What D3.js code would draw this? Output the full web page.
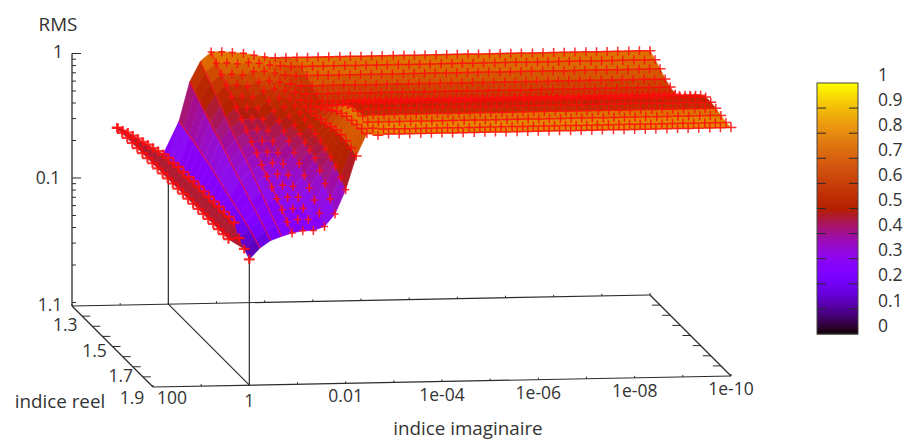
<!DOCTYPE html>
<html>
<head>
<meta charset="utf-8">
<script src="https://cdn.jsdelivr.net/npm/d3@7"></script>
<style>
html, body { margin: 0; padding: 0; background: #fff; }
text { font-family: "Open Sans", sans-serif; font-size: 17.5px; fill: #333; }
text.title { font-size: 18.8px; }
</style>
</head>
<body>
<div id="chart"></div>
<script>
// RMS versus complex index. Columns go by log10(imaginary index).
var reelRows = [1.1, 1.15, 1.2, 1.25, 1.3, 1.35, 1.4, 1.45, 1.5, 1.55, 1.6, 1.65, 1.7, 1.75, 1.8, 1.85, 1.9];
var flapRows = [0.6, 0.65, 0.7, 0.75, 0.8, 0.85, 0.9, 0.95, 1.0, 1.05];

var flapEdgeExp = 0.222;
var flapEdge = [null, null, 0.116, 0.116, 0.116, 0.116, 0.116, 0.116, 0.116, 0.116];
var flapUnity = [0.096, 0.100, 0.106, 0.110, 0.114, 0.118, 0.123, 0.127, 0.132, 0.137];
var mainEdge = [0.116, 0.116, 0.116, 0.116, 0.116, 0.116, 0.116, 0.116, 0.116, 0.116, 0.116, 0.116, 0.116, 0.116, 0.116, null, null];

var dipExp = [0, -0.222, -0.444, -0.667, -0.889, -1.11, -1.33, -1.56, -1.78, -2, -2.22, -2.44, -2.67];
var dipRms = [
  [.140,.140,.143,.143,.143,.145,.145,.145,.145,.145,.145,.145,.145,.143,.118,.106,.096],
  [.275,.265,.255,.246,.236,.224,.216,.204,.192,.182,.172,.163,.154,.145,.137,.127,.118],
  [.570,.519,.473,.431,.392,.357,.331,.302,.275,.250,.232,.212,.192,.176,.163,.148,.135],
  [.829,.741,.662,.592,.529,.473,.422,.378,.344,.313,.280,.250,.224,.200,.179,.163,.145],
  [.981,.877,.784,.700,.626,.559,.491,.439,.392,.350,.307,.275,.246,.219,.196,.172,.154],
  [.981,.877,.784,.700,.626,.559,.500,.447,.399,.357,.319,.285,.255,.224,.200,.179,.160],
  [.963,.860,.769,.687,.614,.549,.491,.439,.392,.350,.313,.280,.250,.224,.200,.179,.160],
  [.945,.877,.814,.741,.687,.626,.570,.519,.473,.431,.385,.344,.302,.265,.232,.200,.172],
  [.910,.860,.814,.755,.713,.662,.614,.570,.529,.491,.464,.439,.415,.364,.313,.260,.216],
  [.877,.829,.784,.727,.687,.650,.626,.603,.581,.559,.539,.519,.491,.464,.431,.385,.337],
  [.860,.814,.755,.700,.662,.626,.614,.614,.626,.638,.650,.675,.700,.700,.687,.662,.626],
  [.860,.799,.741,.675,.638,.614,.614,.650,.700,.755,.814,.860,.893,.910,.927,.945,.945],
  [.860,.799,.741,.675,.638,.614,.626,.675,.755,.829,.910,.963,.981,.981,.963,.945,.910]
];

// the surface is flat from about 1e-03 onwards, same profile for every column
var plateauExp = [-2.89, -3.11, -3.33, -3.56, -3.78, -4, -4.22, -4.44, -4.67, -4.89, -5.11, -5.33, -5.56, -5.78, -6, -6.22, -6.44, -6.67, -6.89, -7.11, -7.33, -7.56, -7.78, -8, -8.22, -8.44, -8.67, -8.89, -9.11, -9.33, -9.56, -9.78, -10];
var plateauRms = [.860,.799,.741,.675,.638,.614,.626,.687,.784,.877,.963,1.02,1.02,1.0,.963,.927,.927];
// colour read from the picture on the plateau, it does not follow the height there
var plateauCb = [.76,.74,.7,.64,.6,.56,.53,.52,.52,.52,.52,.53,.56,.76,.8,.8,.7];

var imagTicks = [100, 1, 0.01, 1e-4, 1e-6, 1e-8, 1e-10];
var imagLabels = ["100", "1", "0.01", "1e-04", "1e-06", "1e-08", "1e-10"];
var imagMinor = [10, 0.1, 1e-3, 1e-5, 1e-7, 1e-9];
var reelTicks = [1.1, 1.2, 1.3, 1.4, 1.5, 1.6, 1.7, 1.8, 1.9];
var reelLabels = ["1.1", "1.3", "1.5", "1.7", "1.9"];
var rmsMajor = [1, 0.1];
var rmsMinor = [0.9, 0.8, 0.7, 0.6, 0.5, 0.4, 0.3, 0.2, 0.09, 0.08, 0.07, 0.06, 0.05, 0.04, 0.03, 0.02, 0.01];
var cbTicks = [0, 0.1, 0.2, 0.3, 0.4, 0.5, 0.6, 0.7, 0.8, 0.9, 1];

var svg = d3.select("#chart").append("svg")
    .attr("width", 906)
    .attr("height", 441);

// 3d box, oblique: x runs along the imaginary axis, a tilted depth along the real one
var originX = 72, originY = 306;
var imagX = d3.scaleLog().domain([100, 1e-10]).range([0, 578]);
var imagY = d3.scaleLog().domain([100, 1e-10]).range([0, -11]);
var reelD = d3.scaleLinear().domain([1.1, 1.9]).range([0, 81]);
var rmsH = d3.scaleLog().domain([0.00937, 1]).range([0, 252.5]);

function project(im, re, rms) {
  return [originX + imagX(im) + reelD(re),
          originY + imagY(im) + reelD(re) - (rms == null ? 0 : rmsH(rms))];
}

// gnuplot palette 7,5,15
function pal(v) {
  var r = Math.sqrt(v), g = v * v * v, b = Math.sin(2 * Math.PI * v);
  return d3.rgb(255 * r, 255 * g, 255 * Math.max(b, 0)).formatHex();
}
var cbFromRms = d3.scaleLinear()
    .domain([0.09, 0.13, 0.16, 0.4, 0.65, 0.87, 1])
    .range([0.09, 0.17, 0.27, 0.42, 0.56, 0.76, 0.8]);
var flapCb = 0.47;

// columns: one array per imaginary value, flap rows first
var allRows = flapRows.concat(reelRows);
var blank = flapRows.map(function () { return null; });
var blankCb = blank.concat(plateauCb);
var columns = [{ e: flapEdgeExp, v: flapEdge.concat(mainEdge), mark: true, flap: true }];
dipExp.forEach(function (e, i) {
  columns.push({
    e: e,
    v: (i == 0 ? flapUnity : blank).concat(dipRms[i]),
    cb: i == 12 ? blankCb : null,
    mark: i == 0 || i > 3,
    dip: i > 3 && i < 10,
    flap: i == 0,
    stripe: i > 0 && i < 5
  });
});
plateauExp.forEach(function (e) {
  columns.push({ e: e, v: blank.concat(plateauRms), cb: blankCb, mark: true });
});

// box floor and axes
var ink = "#2b2b2b";
function line(a, b, w) {
  svg.append("line")
    .attr("x1", a[0]).attr("y1", a[1]).attr("x2", b[0]).attr("y2", b[1])
    .style("stroke", ink).style("stroke-width", w || 1.2);
}
var c11 = project(100, 1.1), c19 = project(100, 1.9);
var e11 = project(1e-10, 1.1), e19 = project(1e-10, 1.9);
line(c11, e11); line(c19, e19); line(c11, c19); line(e11, e19);
line(project(1, 1.1), project(1, 1.9));
line(project(1, 1.1), project(1, 1.1, 0.1));
line(project(1, 1.9), project(1, 1.9, 0.1));

// imaginary axis ticks, front and back
imagTicks.concat(imagMinor).forEach(function (t) {
  [1.1, 1.9].forEach(function (re) {
    var p = project(t, re);
    line(p, [p[0], p[1] - 2], 1);
  });
});
reelTicks.slice(1, -1).forEach(function (t) {
  var p = project(100, t), q = project(1e-10, t);
  line(p, [p[0] + 8, p[1]], 1);
  line(q, [q[0] - 8, q[1]], 1);
});

// rms axis
var zTop = project(100, 1.1, 1);
line(c11, zTop, 1.3);
rmsMajor.forEach(function (t) {
  var p = project(100, 1.1, t);
  line(p, [p[0] + 9, p[1]], 1);
});
rmsMinor.forEach(function (t) {
  var p = project(100, 1.1, t);
  line(p, [p[0] + 4, p[1]], 1);
});

// surface, painted from the back row to the front row
var surf = svg.append("g").attr("filter", "url(#soft)");
var defs = svg.append("defs");
defs.append("filter").attr("id", "soft")
    .attr("x", "-5%").attr("y", "-5%").attr("width", "110%").attr("height", "110%")
  .append("feGaussianBlur").attr("stdDeviation", 0.65);

function pointOf(col, k) {
  return project(Math.pow(10, col.e), allRows[k], col.v[k]);
}

var pathGen = d3.line();
allRows.forEach(function (re, k) {
  var g = surf.append("g");
  if (k < allRows.length - 1) {
    var cells = [];
    d3.range(columns.length - 1).forEach(function (c) {
      var corners = [[c, k], [c + 1, k], [c + 1, k + 1], [c, k + 1]].filter(function (a) {
        return columns[a[0]].v[a[1]] != null;
      });
      if (corners.length < 3) return;
      var vals = corners.map(function (a) { return columns[a[0]].v[a[1]]; });
      var fill = c == 0 ? flapCb : cbFromRms(d3.mean(vals));
      if (columns[c].cb) fill = columns[c].cb[k];
      cells.push({
        pts: corners.map(function (a) { return pointOf(columns[a[0]], a[1]); }),
        cb: fill
      });
    });
    g.selectAll("path.cell").data(cells).enter().append("path")
      .attr("class", "cell")
      .attr("d", function (d) { return pathGen(d.pts) + "Z"; })
      .style("fill", function (d) { return pal(d.cb); })
      .style("stroke", function (d) { return pal(d.cb); })
      .style("stroke-width", 0.6);
    var stripes = columns.filter(function (col) {
      return col.stripe && col.v[k] != null && col.v[k + 1] != null;
    });
    g.selectAll("path.stripe").data(stripes).enter().append("path")
      .attr("class", "stripe")
      .attr("d", function (col) { return pathGen([pointOf(col, k), pointOf(col, k + 1)]); })
      .style("stroke", "#ff0a28")
      .style("stroke-width", 1.5)
      .style("opacity", 0.6);
  }
  var marks = columns.filter(function (col) { return col.mark && col.v[k] != null; });
  g.selectAll("path.mark").data(marks).enter().append("path")
    .attr("class", "mark")
    .attr("d", function (col) {
      var p = pointOf(col, k), arm = col.dip ? 3.5 : 5.4;
      return "M" + (p[0] - arm) + "," + p[1] + "H" + (p[0] + arm) + "M" + p[0] + "," + (p[1] - 4.5) + "V" + (p[1] + 4.5);
    })
    .style("stroke", "#ff0a0a")
    .style("stroke-width", function (col) { return col.flap ? 2.2 : 1.5; })
    .style("fill", "none")
    .style("opacity", 0.85);
});

// text
function label(s, x, y, anchor, cls) {
  svg.append("text").attr("x", x).attr("y", y)
    .attr("class", cls || null)
    .attr("text-anchor", anchor || "middle")
    .attr("dy", "0.35em")
    .text(s);
}
label("RMS", 58, 24, "middle", "title");
label("1", 58, 52);
label("0.1", 48, 178);
reelLabels.forEach(function (s, i) {
  var p = project(100, +s);
  label(s, p[0] - [22, 27, 18, 12, 21][i], p[1] + [-1, -1, 4, 9, 11][i]);
});
label("indice reel", 60, 401, "middle", "title");
imagLabels.forEach(function (s, i) {
  var p = project(imagTicks[i], 1.9);
  label(s, p[0] + (i == 0 ? 19 : 0), p[1] + (i == 1 ? 16 : 13) + (i == 0 ? -2 : 0));
});
label("indice imaginaire", 468, 428, "middle", "title");

// colour box
var cbX = 817, cbW = 41;
var cbY = d3.scaleLinear().domain([0, 1]).range([334, 83]);
svg.selectAll("rect.cb").data(d3.range(0, 1, 0.004)).enter().append("rect")
    .attr("class", "cb")
    .attr("x", cbX).attr("width", cbW)
    .attr("y", function (d) { return cbY(d + 0.004); })
    .attr("height", function (d) { return cbY(d) - cbY(d + 0.004) + 0.5; })
    .style("fill", function (d) { return pal(d + 0.002); });
svg.append("rect")
    .attr("x", cbX).attr("y", cbY(1)).attr("width", cbW).attr("height", cbY(0) - cbY(1))
    .style("fill", "none").style("stroke", "#444").style("stroke-width", 1);
cbTicks.forEach(function (t) {
  if (t > 0 && t < 1) {
    line([cbX, cbY(t)], [cbX + 9, cbY(t)], 1);
    line([cbX + cbW - 9, cbY(t)], [cbX + cbW, cbY(t)], 1);
  }
  label(String(t), 878, cbY(t) - 8.5, "start");
});
</script>
</body>
</html>
